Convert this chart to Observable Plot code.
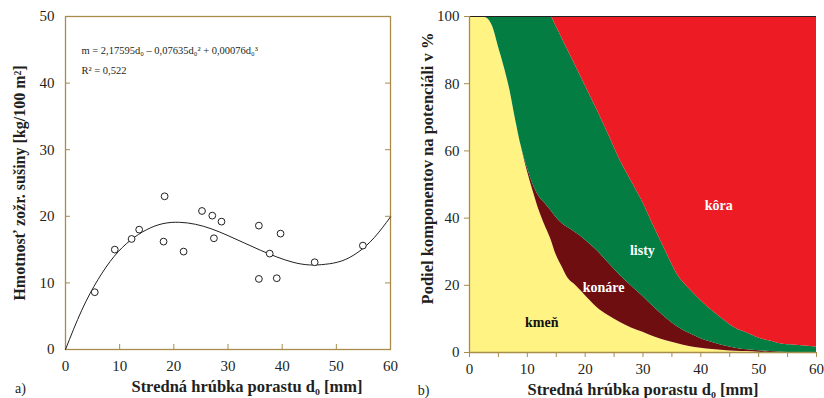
<!DOCTYPE html>
<html>
<head>
<meta charset="utf-8">
<script src="https://cdn.jsdelivr.net/npm/d3@7"></script>
<script src="https://cdn.jsdelivr.net/npm/@observablehq/plot@0.6"></script>
<style>
  body { margin: 0; background: white; }
  #wrap { position: relative; width: 824px; height: 398px; overflow: hidden; background: white; }
  #left, #right { position: absolute; top: 0; }
  #left { left: 0; }
  #right { left: 400px; }
</style>
</head>
<body>
<div id="wrap"><div id="left"></div><div id="right"></div></div>
<script>
// ---------- Panel a) data ----------
const sampleD = [5.4, 9.1, 12.2, 13.6, 18.3, 18.1, 21.8, 25.2, 27.1, 28.8, 27.4, 35.7, 35.7, 37.7, 39.7, 39.0, 46.0, 54.9];
const sampleM = [8.6, 15.0, 16.6, 18.0, 23.0, 16.2, 14.7, 20.8, 20.1, 19.2, 16.7, 18.6, 10.6, 14.4, 17.4, 10.7, 13.1, 15.6];
// fitted curve
const curveD = [0, 3, 6, 9, 12, 15, 18, 21, 24, 27, 30, 33, 36, 39, 42, 45, 48, 51, 54, 57, 60];
const curveM = [0, 5.9, 10.5, 14.0, 16.4, 18.0, 18.9, 19.1, 18.8, 18.1, 17.1, 16.0, 14.9, 13.9, 13.1, 12.7, 12.8, 13.3, 14.6, 16.8, 19.9];
const xTicksA = [0, 10, 20, 30, 40, 50, 60];
const yTicksA = [0, 10, 20, 30, 40, 50];
const innerTicksY = [10, 20, 30, 40];
const innerTicksX = [10, 20, 30, 40, 50];
const equation = "m = 2,17595d₀ – 0,07635d₀² + 0,00076d₀³";
const rSquared = "R² = 0,522";

// ---------- Panel b) data ----------
const dGrid  = [0, 2, 3, 4, 5, 6, 7, 8, 9, 10, 11, 12, 13, 14, 15, 16, 17, 18, 19, 20, 22, 24, 26, 28, 30, 32, 34, 36, 38, 40, 42, 44, 46, 48, 50, 52, 54, 56, 58, 60];
const kmen   = [100, 100, 99.5, 97, 91, 85, 78, 69, 61, 54, 48, 42.5, 38, 34, 29, 25.5, 22.2, 20.5, 18.8, 17, 13.5, 11, 9, 7.3, 6, 4.6, 3.5, 2.6, 1.8, 1.3, 0.9, 0.6, 0.4, 0.3, 0.1, 0, 0, 0, 0, 0];
const konare = [0, 0, 0, 0, 0, 0, 0, 0, 0, 1, 2, 4, 6.5, 8.4, 11.2, 12.9, 15, 15.6, 16.1, 16.5, 16.9, 15.7, 14, 12.5, 10.7, 8.7, 6.8, 5, 3.9, 2.8, 2.1, 1.4, 0.9, 0.5, 0.4, 0.3, 0.1, 0, 0, 0];
const listy  = [0, 0, 0.5, 3, 9, 15, 22, 31, 39, 45, 50, 53.5, 55.5, 57.6, 56.8, 55.1, 52.8, 50.4, 48.1, 46, 42.1, 38.3, 34.4, 31.2, 27.9, 23.8, 19.6, 15.5, 13.3, 11.4, 9.4, 7.7, 5.9, 5, 3.8, 3.1, 2.4, 2.2, 1.9, 1.6];
const kora   = [0, 0, 0, 0, 0, 0, 0, 0, 0, 0, 0, 0, 0, 0, 3, 6.5, 10, 13.5, 17, 20.5, 27.5, 35, 42.6, 49, 55.4, 62.9, 70.1, 76.9, 81, 84.5, 87.6, 90.3, 92.8, 94.2, 95.7, 96.6, 97.5, 97.8, 98.1, 98.4];
const components = ["kmeň", "konáre", "listy", "kôra"];
const compColors = ["#fff384", "#6e0e10", "#037d41", "#ed1c24"];
const labelNames = ["kmeň", "konáre", "listy", "kôra"];
const labelD = [12.5, 23.2, 29.9, 43.1];
const labelP = [8.9, 19.3, 30.4, 43.8];
const xTicksB = [0, 5, 10, 15, 20, 25, 30, 35, 40, 45, 50, 55, 60];
const xLabelsB = [0, 10, 20, 30, 40, 50, 60];
const yTicksB = [0, 20, 40, 60, 80, 100];

const gold = "#a88d4a";
const ink = "#231f20";
const font = "Liberation Serif, Times New Roman, serif";

// ---------- Panel a) ----------
const points = sampleD.map((d, i) => ({d, m: sampleM[i]}));
const curve = curveD.map((d, i) => ({d, m: curveM[i]}));

const left = Plot.plot({
  width: 420, height: 398,
  marginLeft: 65, marginRight: 30, marginTop: 16, marginBottom: 49,
  x: {domain: [0, 60], label: null},
  y: {domain: [0, 50], label: null},
  style: {fontFamily: font, fontSize: "15px", color: ink, background: "white", overflow: "visible"},
  marks: [
    Plot.tickY(innerTicksY, {y: d => d, stroke: gold, insetRight: 320}),
    Plot.tickY(innerTicksY, {y: d => d, stroke: gold, insetLeft: 320}),
    Plot.tickX(innerTicksX, {x: d => d, stroke: gold, insetTop: 328}),
    Plot.frame({stroke: gold, strokeWidth: 1.3}),
    Plot.axisX({ticks: xTicksA, tickSize: 0, tickPadding: 11, label: null}),
    Plot.axisY({ticks: yTicksA, tickSize: 0, tickPadding: 11, label: null}),
    Plot.line(curve, {x: "d", y: "m", curve: "natural", stroke: ink, strokeWidth: 1}),
    Plot.dot(points, {x: "d", y: "m", r: 3.4, stroke: ink, strokeWidth: 1, fill: "white"}),
    Plot.text([equation], {frameAnchor: "top-left", dx: 16, dy: 34, textAnchor: "start", lineAnchor: "middle", fontSize: 10.5}),
    Plot.text([rSquared], {frameAnchor: "top-left", dx: 16, dy: 54, textAnchor: "start", lineAnchor: "middle", fontSize: 10.5}),
    Plot.text(["Stredná hrúbka porastu d₀ [mm]"], {frameAnchor: "bottom", dx: 19, dy: 37, textAnchor: "middle", lineAnchor: "middle", fontWeight: "bold", fontSize: 16.5}),
    Plot.text(["Hmotnosť zožr. sušiny [kg/100 m²]"], {frameAnchor: "left", dx: -46, rotate: -90, textAnchor: "middle", lineAnchor: "middle", fontWeight: "bold", fontSize: 16}),
    Plot.text(["a)"], {frameAnchor: "bottom-left", dx: -45, dy: 39, textAnchor: "middle", lineAnchor: "middle", fontSize: 14})
  ]
});
document.getElementById("left").appendChild(left);

// ---------- Panel b) ----------
const series = [kmen, konare, listy, kora];
const table = [];
components.forEach((c, j) => dGrid.forEach((d, i) => table.push({d, v: series[j][i], comp: c})));
const labels = labelNames.map((name, i) => ({name, d: labelD[i], p: labelP[i]}));

const right = Plot.plot({
  width: 424, height: 398,
  marginLeft: 69, marginRight: 8, marginTop: 16, marginBottom: 46,
  x: {domain: [0, 60], label: null},
  y: {domain: [0, 100], label: null},
  color: {domain: components, range: compColors},
  style: {fontFamily: font, fontSize: "15px", color: ink, background: "white", overflow: "visible"},
  marks: [
    Plot.areaY(table, {x: "d", y: "v", fill: "comp", order: components, curve: "monotone-x"}),
    Plot.ruleY([100], {stroke: ink, strokeWidth: 1.2}),
    Plot.ruleY([0], {stroke: gold, strokeWidth: 1.3}),
    Plot.ruleX([0], {stroke: gold, strokeWidth: 1.3}),
    Plot.axisX({ticks: xTicksB, tickSize: 5, stroke: gold, tickFormat: () => "", label: null}),
    Plot.axisX({ticks: xLabelsB, tickSize: 0, tickPadding: 11, label: null}),
    Plot.axisY({ticks: yTicksB, tickSize: 5, stroke: gold, tickPadding: 5, label: null}),
    Plot.text(labels.filter(l => l.name === "kmeň"), {x: "d", y: "p", text: "name", fill: "#111", fontWeight: "bold", fontSize: 14}),
    Plot.text(labels.filter(l => l.name !== "kmeň"), {x: "d", y: "p", text: "name", fill: "white", fontWeight: "bold", fontSize: 14}),
    Plot.text(["Stredná hrúbka porastu d₀ [mm]"], {frameAnchor: "bottom", dy: 37, textAnchor: "middle", lineAnchor: "middle", fontWeight: "bold", fontSize: 16.5}),
    Plot.text(["Podiel komponentov na potenciáli v %"], {frameAnchor: "left", dx: -42, dy: -16, rotate: -90, textAnchor: "middle", lineAnchor: "middle", fontWeight: "bold", fontSize: 16.5}),
    Plot.text(["b)"], {frameAnchor: "bottom-left", dx: -46, dy: 38, textAnchor: "middle", lineAnchor: "middle", fontSize: 14})
  ]
});
document.getElementById("right").appendChild(right);
</script>
</body>
</html>
